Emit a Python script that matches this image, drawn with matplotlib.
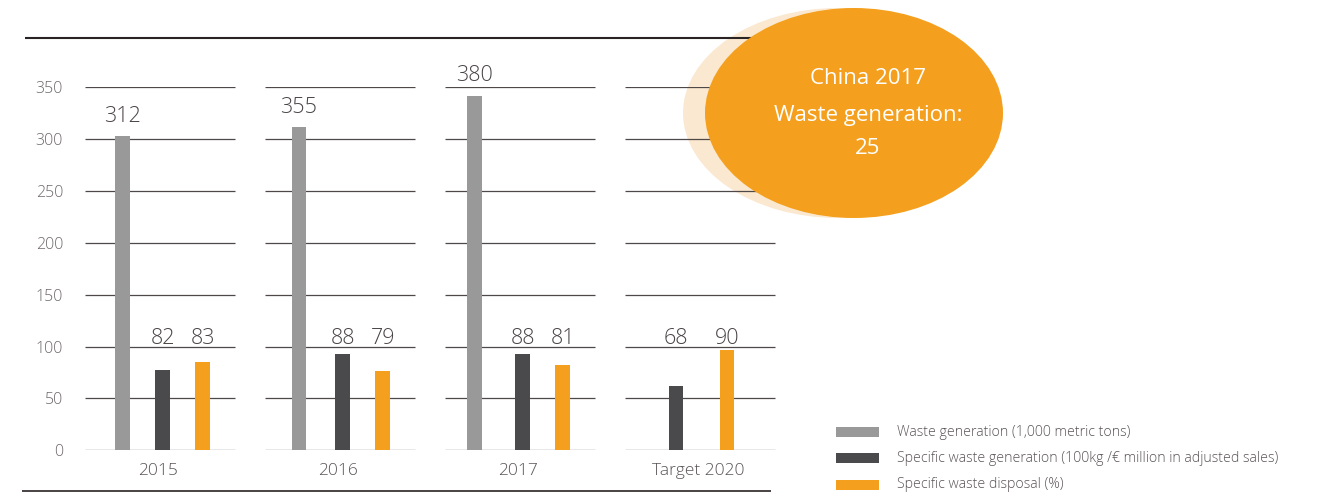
import numpy as np
import matplotlib
matplotlib.use('Agg')
import matplotlib.pyplot as plt
from matplotlib.patches import Ellipse, Rectangle

plt.rcParams['font.family'] = ['Open Sans', 'DejaVu Sans']
plt.rcParams['font.weight'] = 'light'

#---------------data---------------------
groups = ['2015', '2016', '2017', 'Target 2020']
# labels printed above the bars
waste_gen_lbl = [312, 355, 380, None]
spec_gen_lbl = [82, 88, 88, 68]
spec_disp_lbl = [83, 79, 81, 90]
# bar heights as drawn in the original graphic
waste_gen = [303, 312, 342, None]
spec_gen = [77, 93, 93, 62]
spec_disp = [85, 76.5, 82, 97]

series_names = ['Waste generation (1,000 metric tons)',
                'Specific waste generation (100kg /€ million in adjusted sales)',
                'Specific waste disposal (%)']
bubble_text = ['China 2017', 'Waste generation:', '25']
yticks = [0, 50, 100, 150, 200, 250, 300, 350]

#---------------style---------------------
c_gray = '#999999'
c_dark = '#4a4a4c'
c_orange = '#F4A01E'
c_light = '#FBE8D0'
c_grid = '#4f4848'
c_text = '#5a5455'
c_rule = '#2a2323'

W, H = 1328, 492
fig = plt.figure(figsize=(W / 100, H / 100), dpi=100)

# background layer (light bubble + top rule), pixel coordinates
bg = fig.add_axes([0, 0, 1, 1])
bg.set_xlim(0, W)
bg.set_ylim(H, 0)
bg.axis('off')
bg.set_zorder(0)
bg.add_patch(Ellipse((838, 113), 310, 210, facecolor=c_light, edgecolor='none', zorder=1))
bg.plot([25, 775], [38, 38], color=c_rule, lw=1.5, zorder=2, solid_capstyle='butt')

# chart layer
y0_px, y350_px = 450.3, 87.3
ax = fig.add_axes([70 / W, (H - y0_px) / H, (W - 70) / W, (y0_px - y350_px) / H])
ax.set_zorder(1)
ax.patch.set_visible(False)
ax.set_xlim(70, W)
ax.set_ylim(0, 350)
for sp in ax.spines.values():
    sp.set_visible(False)
ax.set_xticks([])
ax.set_yticks(yticks)
ax.set_yticklabels([str(t) for t in yticks])
ax.tick_params(axis='y', length=0, pad=5, labelsize=11.5, labelcolor='#6e6869')
for lab in ax.get_yticklabels():
    lab.set_va('center_baseline')

seg_start0, seg_step, seg_w, bw = 84.7, 180, 150.7, 14.7
gray_off = [37.5, 34.3, 30.0]
three_off = [None, 78, 118]
target_off = [None, 51.2, 102.2]

for i, g in enumerate(groups):
    s = seg_start0 + i * seg_step
    ax.hlines(yticks, s, s + seg_w, color=c_grid, lw=0.9, zorder=1)
    ax.text(s + seg_w / 2 - 2, -20, g, ha='center', va='center', fontsize=12.5,
            color=c_text)
    offs = target_off if g.startswith('Target') else three_off
    if waste_gen[i] is not None:
        x = s + gray_off[i]
        ax.bar(x, waste_gen[i], width=bw, color=c_gray, zorder=2)
        ax.text(x, waste_gen[i] + 19, str(waste_gen_lbl[i]), ha='center', va='center',
                fontsize=15.5, color='#4a4445')
    x = s + offs[1]
    ax.bar(x, spec_gen[i], width=bw, color=c_dark, zorder=2)
    ax.text(x, 108, str(spec_gen_lbl[i]), ha='center', va='center', fontsize=15.5,
            color='#4a4445')
    x = s + offs[2]
    ax.bar(x, spec_disp[i], width=bw, color=c_orange, zorder=2)
    ax.text(x, 108, str(spec_disp_lbl[i]), ha='center', va='center', fontsize=15.5,
            color='#4a4445')

# overlay layer (orange bubble, bottom rule, legend)
ov = fig.add_axes([0, 0, 1, 1])
ov.set_xlim(0, W)
ov.set_ylim(H, 0)
ov.axis('off')
ov.set_zorder(2)
ov.add_patch(Ellipse((854, 113), 298, 210, facecolor=c_orange, edgecolor='none'))
for t, yy in zip(bubble_text, [79, 115, 149]):
    ov.text(868, yy, t, ha='center', va='center', color='white', fontsize=16,
            fontweight='normal')
ov.plot([22, 771], [490.5, 490.5], color=c_rule, lw=1.2, solid_capstyle='butt')

for name, col, yy in zip(series_names, [c_gray, c_dark, c_orange], [432, 458, 485]):
    ov.add_patch(Rectangle((836, yy - 5), 43, 10, facecolor=col, edgecolor='none'))
    ov.text(897, yy, name, ha='left', va='center', fontsize=10.2, color=c_text)

plt.savefig('out.png', dpi=100)
